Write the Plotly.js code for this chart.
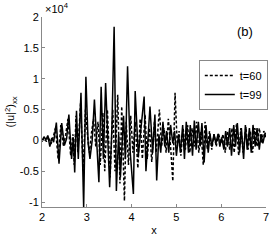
<!DOCTYPE html>
<html><head><meta charset="utf-8">
<script src="https://cdn.plot.ly/plotly-3.0.1.min.js"></script>
<style>body{margin:0;background:#fff}#c{width:273px;height:240px}</style>
</head><body><div id="c"></div>
<script>
// values in units of 1e4
const labels = ['t=60', 't=99'];
const x60 = [2.00,2.05,2.10,2.15,2.20,2.25,2.30,2.36,2.42,2.48,2.53,2.58,2.64,2.69,2.72,2.76,2.80,2.86,2.92,2.97,3.02,3.06,3.10,3.15,3.20,3.25,3.30,3.36,3.40,3.46,3.52,3.58,3.63,3.69,3.74,3.78,3.84,3.88,3.93,3.98,4.03,4.08,4.14,4.19,4.24,4.30,4.35,4.40,4.45,4.51,4.55,4.62,4.67,4.72,4.77,4.82,4.87,4.92,4.97,5.02,5.06,5.10,5.15,5.20,5.25,5.30,5.35,5.40,5.45,5.50,5.55,5.60,5.64,5.69,5.74,5.79,5.84,5.89,5.94,5.99,6.04,6.09,6.14,6.19,6.24,6.29,6.34,6.39,6.44,6.49,6.55,6.60,6.65,6.70,6.75,6.80,6.85,6.90,6.95,7.00];
const y60 = [0.0,0.04,-0.02,0.06,-0.06,0.05,0.2,-0.3,0.25,-0.1,0.1,0.35,-0.25,0.1,-0.4,0.4,-0.2,0.6,-0.5,0.5,0.05,-0.2,0.1,0.35,-0.1,0.3,-0.4,0.45,-0.5,0.5,-0.6,0.5,-0.5,0.74,-0.7,0.55,-0.98,0.3,-0.4,0.4,-0.2,0.3,-0.45,0.35,-0.3,0.42,-0.3,0.2,-0.35,0.3,-0.2,0.5,-0.1,0.2,-0.2,0.35,-0.1,-0.66,0.77,-0.1,0.15,-0.25,0.2,-0.15,0.25,-0.2,0.2,-0.1,0.3,-0.2,0.15,-0.4,0.3,-0.15,0.15,-0.15,0.1,-0.1,0.12,-0.05,0.1,-0.2,0.15,-0.15,0.2,-0.2,0.26,-0.25,0.2,-0.2,0.22,-0.15,0.15,-0.2,0.2,-0.1,0.2,-0.05,0.15,0.05];
const x99 = [2.00,2.044,2.088,2.13,2.175,2.22,2.26,2.32,2.38,2.44,2.50,2.55,2.60,2.66,2.70,2.73,2.77,2.81,2.87,2.93,2.98,3.03,3.07,3.12,3.17,3.23,3.27,3.32,3.37,3.42,3.47,3.51,3.56,3.61,3.66,3.71,3.75,3.82,3.86,3.91,3.97,4.04,4.08,4.15,4.21,4.28,4.32,4.37,4.41,4.47,4.52,4.56,4.61,4.65,4.70,4.74,4.78,4.83,4.87,4.92,4.96,5.00,5.05,5.09,5.14,5.18,5.22,5.27,5.31,5.36,5.40,5.44,5.49,5.53,5.57,5.62,5.66,5.71,5.75,5.79,5.84,5.88,5.93,5.97,6.01,6.06,6.10,6.14,6.19,6.23,6.28,6.32,6.36,6.41,6.45,6.50,6.54,6.58,6.63,6.67,6.71,6.76,6.80,6.85,6.89,6.93,6.98,7.00];
const y99 = [-0.02,0.06,0.01,0.08,-0.1,0.04,-0.03,0.29,-0.38,0.28,-0.08,0.03,0.42,-0.3,0.05,-0.52,0.48,-0.3,0.77,-1.08,1.03,-0.05,-0.3,0.0,0.66,-0.1,-0.68,0.87,-0.3,0.93,-0.2,-0.76,0.2,1.84,-0.82,0.1,-0.6,0.4,-0.3,1.2,-0.2,-0.87,0.8,-0.25,0.2,0.71,-0.5,0.1,0.55,-0.2,0.42,-0.65,0.1,-0.2,0.3,-0.1,0.15,-0.2,0.25,-0.05,0.15,-0.25,0.1,-0.2,0.25,-0.3,0.3,-0.2,0.25,-0.25,0.32,-0.15,0.3,-0.1,0.28,-0.36,0.25,-0.2,0.1,-0.1,0.1,-0.05,0.1,-0.1,0.05,-0.15,0.15,-0.1,0.2,-0.25,0.25,-0.1,0.28,-0.2,0.2,-0.3,0.25,-0.15,0.2,-0.2,0.25,-0.1,0.2,-0.15,0.1,-0.05,0.12,0.1];
const xTicks = [2,3,4,5,6,7];
const yTicks = [-1,-0.5,0,0.5,1,1.5,2];
const yTickText = ['-1','-0.5','0','0.5','1','1.5','2'];

const font = {family:'Liberation Sans, Arial, sans-serif', size:11, color:'#000'};
const traces = [
  {x:x60, y:y60, name:labels[0], mode:'lines', line:{color:'#000', width:1.5, dash:'3px,2px'}},
  {x:x99, y:y99, name:labels[1], mode:'lines', line:{color:'#000', width:1.5}}
];
const axisCommon = {showgrid:false, zeroline:false, showline:true, linecolor:'#888', linewidth:1,
  ticks:'inside', ticklen:3, tickcolor:'#888', tickfont:font, mirror:false, automargin:false};
const layout = {
  width:273, height:240, margin:{l:42, r:5, t:17, b:33},
  paper_bgcolor:'#fff', plot_bgcolor:'#fff', font:font, showlegend:true,
  xaxis:Object.assign({}, axisCommon, {range:[2,7], tickvals:xTicks, ticktext:xTicks.map(String),
    title:{text:'x', font:font, standoff:4}}),
  yaxis:Object.assign({}, axisCommon, {range:[-1.08,2], tickvals:yTicks, ticktext:yTickText,
    title:{text:'(|u|<sup>2</sup>)<sub>xx</sub>', font:font, standoff:2}}),
  legend:{x:0.70, y:0.774, xanchor:'left', yanchor:'top', bgcolor:'#fff', bordercolor:'#888', borderwidth:1,
    font:font, itemwidth:30, tracegroupgap:0},
  annotations:[
    {text:'×10<sup>4</sup>', xref:'paper', yref:'paper', x:0.005, y:1.0, xanchor:'left', yanchor:'bottom', showarrow:false, font:font},
    {text:'(b)', xref:'paper', yref:'paper', x:0.905, y:0.925, xanchor:'center', yanchor:'middle', showarrow:false, font:{family:font.family, size:13, color:'#000'}}
  ]
};
Plotly.newPlot('c', traces, layout, {staticPlot:true, displayModeBar:false});
</script></body></html>
